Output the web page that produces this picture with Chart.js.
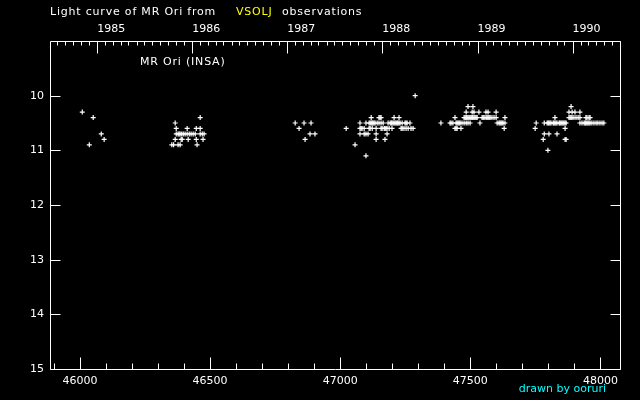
<!DOCTYPE html>
<html>
<head>
<meta charset="utf-8">
<script src="https://cdn.jsdelivr.net/npm/chart.js@4.4.0/dist/chart.umd.min.js"></script>
<style>
  body { margin: 0; background: #000; }
  #wrap { width: 640px; height: 400px; }
</style>
</head>
<body>
<div id="wrap"><canvas id="c" width="640" height="400"></canvas></div>
<script>
// JD - 2400000 on x, visual magnitude on y; each season is [mag, [jd, ...]]
const s1985 = [
  [10.3, [46009]],
  [10.4, [46051]],
  [10.7, [46082]],
  [10.8, [46093]],
  [10.9, [46036]]
];
const s1986 = [
  [10.4, [46462]],
  [10.5, [46366]],
  [10.6, [46370, 46412, 46447, 46462]],
  [10.7, [46370, 46377, 46381, 46385, 46391, 46397, 46404, 46412, 46420, 46427, 46435, 46443, 46462, 46470, 46477]],
  [10.8, [46366, 46389, 46393, 46416, 46447, 46473]],
  [10.9, [46353, 46360, 46377, 46385, 46450]]
];
const s1987 = [
  [10.5, [46827, 46861, 46888]],
  [10.6, [46842]],
  [10.7, [46884, 46903]],
  [10.8, [46865]]
];
const s1988 = [
  [10.0, [47288]],
  [10.4, [47119, 47149, 47153, 47157, 47207, 47226]],
  [10.5, [47076, 47099, 47111, 47115, 47119, 47123, 47126, 47130, 47134, 47142, 47149, 47157, 47165, 47184, 47192, 47196, 47199, 47203, 47207, 47211, 47215, 47219, 47222, 47226, 47230, 47238, 47249, 47253, 47257, 47268]],
  [10.6, [47023, 47076, 47080, 47084, 47092, 47111, 47115, 47123, 47138, 47157, 47161, 47169, 47172, 47176, 47180, 47188, 47199, 47234, 47238, 47245, 47253, 47261, 47272, 47280]],
  [10.7, [47076, 47092, 47099, 47107, 47138, 47180]],
  [10.8, [47138, 47172]],
  [10.9, [47057]],
  [11.1, [47099]]
];
const s1989 = [
  [10.2, [47491, 47510]],
  [10.3, [47484, 47507, 47514, 47533, 47560, 47568, 47599]],
  [10.4, [47441, 47476, 47480, 47484, 47487, 47491, 47495, 47499, 47503, 47507, 47510, 47514, 47518, 47522, 47526, 47545, 47549, 47553, 47560, 47564, 47568, 47572, 47576, 47583, 47591, 47599, 47633]],
  [10.5, [47387, 47422, 47426, 47433, 47445, 47449, 47453, 47457, 47461, 47468, 47476, 47484, 47491, 47499, 47537, 47603, 47610, 47614, 47618, 47622, 47626, 47633]],
  [10.6, [47441, 47445, 47449, 47464, 47630]]
];
const s1990 = [
  [10.2, [47887]],
  [10.3, [47879, 47891, 47902, 47921]],
  [10.4, [47825, 47879, 47883, 47887, 47891, 47898, 47906, 47914, 47921, 47944, 47948, 47956, 47960]],
  [10.5, [47753, 47784, 47795, 47799, 47802, 47806, 47810, 47818, 47821, 47825, 47829, 47833, 47841, 47844, 47848, 47852, 47856, 47860, 47864, 47868, 47921, 47929, 47937, 47941, 47944, 47948, 47952, 47956, 47960, 47967, 47975, 47983, 47990, 47998, 48006, 48013]],
  [10.6, [47749, 47864]],
  [10.7, [47784, 47802, 47833]],
  [10.8, [47780, 47864, 47868]],
  [11.0, [47798]]
];

const jdLabels = [46000, 46500, 47000, 47500, 48000];
const magLabels = [10, 11, 12, 13, 14, 15];
const yearLabels = [1985, 1986, 1987, 1988, 1989, 1990];

const FONT = { family: 'DejaVu Sans', size: 11 };

function toPoints(season) {
  const pts = [];
  season.forEach(([m, jds]) => jds.forEach(j => pts.push({ x: j, y: m })));
  return pts;
}
// calendar date -> JD - 2400000
function mjd(y, mo) {
  return Date.UTC(y, mo, 1) / 86400000 + 2440587.5 - 2400000;
}

const frame = {
  id: 'frame',
  afterDraw(chart) {
    const { ctx, chartArea: a, scales } = chart;
    const x = scales.x, y = scales.y;
    const L = a.left + 0.5, R = Math.round(a.right) + 0.5, T = a.top + 0.5, B = Math.round(a.bottom) + 0.5;
    ctx.save();
    ctx.strokeStyle = '#fff';
    ctx.lineWidth = 1;
    ctx.beginPath();
    ctx.rect(L, T, R - L, B - T);
    // bottom ticks every 100 days, longer at 500
    for (let v = 45900; v <= 48000; v += 100) {
      const px = Math.round(x.getPixelForValue(v)) + 0.5;
      const len = v % 500 === 0 ? 12 : 6;
      ctx.moveTo(px, B); ctx.lineTo(px, B - len);
    }
    // top ticks each month, longer at new year
    for (let yr = 1984; yr <= 1990; yr++) {
      for (let mo = 0; mo < 12; mo++) {
        const v = mjd(yr, mo);
        if (v < x.min || v > x.max) continue;
        const px = Math.round(x.getPixelForValue(v)) + 0.5;
        const len = mo === 0 ? 12 : 4;
        ctx.moveTo(px, T); ctx.lineTo(px, T + len);
      }
    }
    // magnitude ticks on both sides
    magLabels.forEach(m => {
      const py = Math.round(y.getPixelForValue(m)) + 0.5;
      ctx.moveTo(L, py); ctx.lineTo(L + 10, py);
      ctx.moveTo(R, py); ctx.lineTo(R - 10, py);
    });
    ctx.stroke();

    ctx.font = '11px "DejaVu Sans"';
    ctx.textBaseline = 'middle';
    ctx.textAlign = 'left';
    ctx.letterSpacing = '0.8px';
    ctx.fillStyle = '#fff';
    ctx.fillText('Light curve of MR Ori from', 50, 12);
    ctx.fillStyle = '#ffff00';
    ctx.fillText('VSOLJ', 236, 12);
    ctx.fillStyle = '#fff';
    ctx.fillText('observations', 282, 12);
    ctx.fillText('MR Ori (INSA)', 140, 62);
    ctx.letterSpacing = '0px';
    ctx.fillStyle = '#00ffff';
    ctx.textAlign = 'right';
    ctx.fillText('drawn by ooruri', 606, 389);
    ctx.restore();
  }
};

const cross = { pointStyle: 'cross', radius: 2.5, borderColor: '#fff', backgroundColor: '#fff', borderWidth: 1.2 };

new Chart(document.getElementById('c'), {
  type: 'scatter',
  data: {
    datasets: [s1985, s1986, s1987, s1988, s1989, s1990].map(s => Object.assign({ data: toPoints(s) }, cross))
  },
  options: {
    responsive: false,
    animation: false,
    layout: { padding: { left: 0, right: 20, top: 0, bottom: 0 } },
    plugins: { legend: { display: false }, tooltip: { enabled: false } },
    scales: {
      x: {
        type: 'linear', position: 'bottom', min: 45885, max: 48075,
        grid: { display: false, drawTicks: false }, border: { display: false },
        afterBuildTicks: s => { s.ticks = jdLabels.map(v => ({ value: v })); },
        afterFit: s => { s.height = 31; },
        ticks: { color: '#fff', font: FONT, padding: 6, maxRotation: 0, autoSkip: false, callback: v => String(v) }
      },
      top: {
        type: 'linear', position: 'top', min: 45885, max: 48075,
        grid: { display: false, drawTicks: false }, border: { display: false },
        afterBuildTicks: s => { s.ticks = yearLabels.map(yr => ({ value: mjd(yr, 0) })); },
        afterFit: s => { s.height = 41; },
        ticks: {
          color: '#fff', font: FONT, padding: 5, align: 'start', maxRotation: 0, autoSkip: false,
          callback: (v, i) => String(yearLabels[i])
        }
      },
      y: {
        type: 'linear', position: 'left', min: 9, max: 15, reverse: true,
        grid: { display: false, drawTicks: false }, border: { display: false },
        afterBuildTicks: s => { s.ticks = magLabels.map(v => ({ value: v })); },
        afterFit: s => { s.width = 50; },
        ticks: { color: '#fff', font: FONT, padding: 6 }
      }
    }
  },
  plugins: [frame]
});
</script>
</body>
</html>
